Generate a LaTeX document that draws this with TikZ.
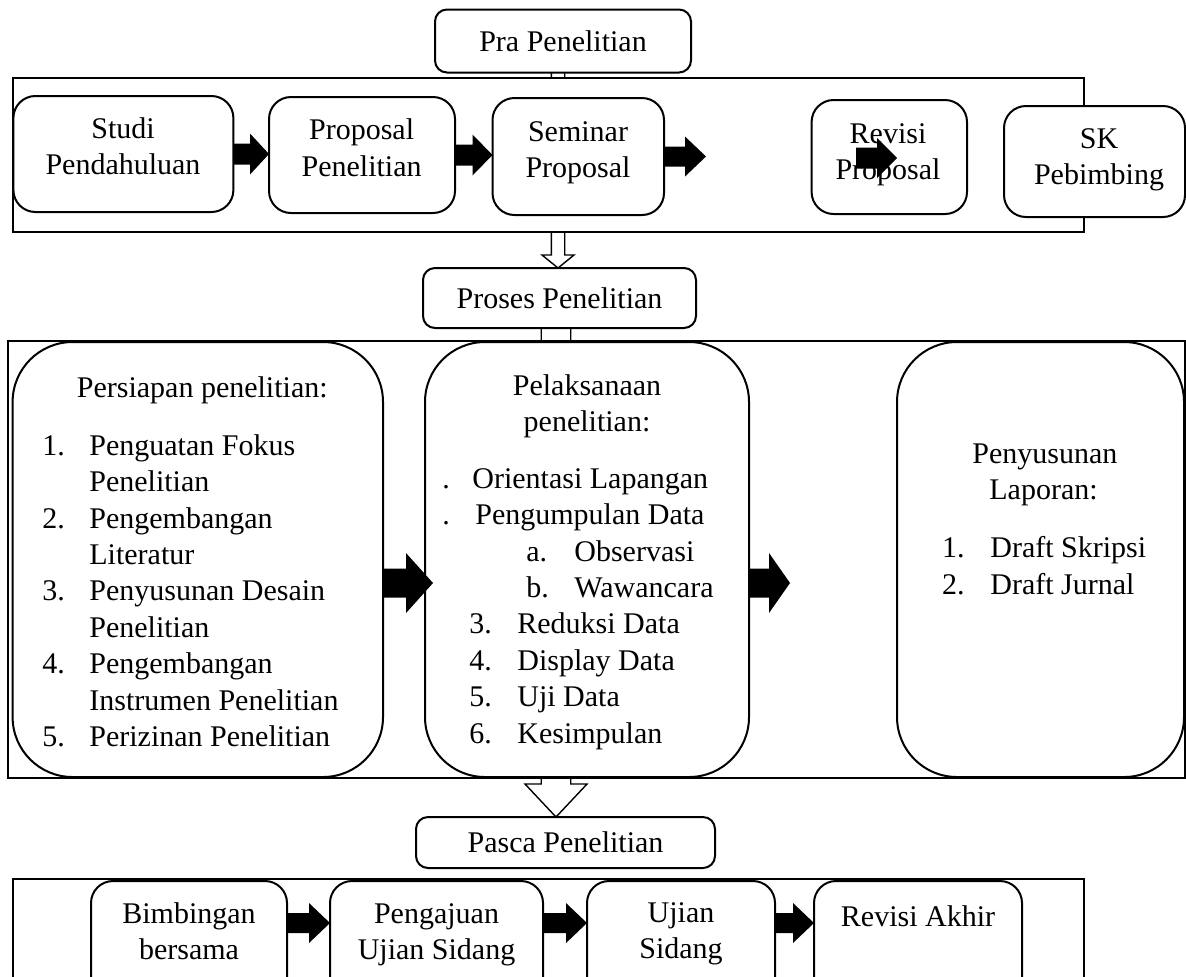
\documentclass[tikz,border=0pt]{standalone}
\usepackage{fontspec}
\setmainfont{Liberation Serif}
\usetikzlibrary{calc}

% broad black arrow, pointing right: start, tip, shaft half, head half, head length
\newcommand{\fatarrow}[5]{%
  \fill ($(#1)+(0,-#3)$) -- ($(#2)+(-#5,-#3)$) -- ($(#2)+(-#5,-#4)$) -- (#2)
    -- ($(#2)+(-#5,#4)$) -- ($(#2)+(-#5,#3)$) -- ($(#1)+(0,#3)$) -- cycle;}
% open arrow, pointing down: start, tip, shaft half, head half, head length
\newcommand{\hollowdown}[5]{%
  \draw[hollow] ($(#1)+(-#3,0)$) -- ($(#2)+(-#3,-#5)$) -- ($(#2)+(-#4,-#5)$) -- (#2)
    -- ($(#2)+(#4,-#5)$) -- ($(#2)+(#3,-#5)$) -- ($(#1)+(#3,0)$);}

\begin{document}
\begin{tikzpicture}[x=0.5pt,y=-0.5pt,
    stagebox/.style={draw, line width=1pt, fill=white, rounded corners=6pt,
      inner sep=0pt, outer sep=0pt, font=\fontsize{15}{18.2}\selectfont},
    stepbox/.style={draw, line width=1pt, fill=white, rounded corners=11pt,
      inner sep=0pt, outer sep=0pt},
    bigbox/.style={draw, line width=1pt, fill=white, rounded corners=30pt,
      inner sep=0pt, outer sep=0pt},
    groupframe/.style={draw, line width=1pt, fill=white},
    hollow/.style={line width=0.7pt},
    txt/.style={inner sep=0pt, font=\fontsize{15}{18.2}\selectfont}]
    \useasboundingbox (0,0) rectangle (1186,976);
    \clip (0,0) rectangle (1186,976);

    % The three stage titles
    \node[stagebox, minimum width=128pt, minimum height=31.5pt] (pra) at (563,41) {Pra Penelitian};
    \node[stagebox, minimum width=136.5pt, minimum height=30pt] (proses) at (559.5,298) {Proses Penelitian};
    \node[stagebox, minimum width=149.5pt, minimum height=25.5pt] (pasca) at (565.5,842.5) {Pasca Penelitian};

    % Open arrows between the stages (partly hidden by the frames)
    \coordinate (h1) at (558,0);
    \coordinate (h1s) at (h1 |- pra.south);
    \coordinate (h1e) at (h1 |- proses.north);
    \hollowdown{h1s}{h1e}{6.7}{16}{13}
    \coordinate (h2) at (556,0);
    \coordinate (h2s) at (h2 |- proses.south);
    \coordinate (h2e) at (h2 |- pasca.north);
    \hollowdown{h2s}{h2e}{14.75}{31}{33}

    % Frames round each stage
    \draw[groupframe] (12.6,77.7) rectangle (1084,231.7);
    \draw[groupframe] (7.7,341) rectangle (1184.5,778);
    \draw[groupframe] (12.6,879) rectangle (1084,1010);

    % Pra Penelitian
    \node[stepbox, minimum width=110pt, minimum height=58pt] (studi) at (123.4,154) {};
    \node[stepbox, minimum width=93pt, minimum height=58pt] (proposal) at (362,155) {};
    \node[stepbox, minimum width=85.75pt, minimum height=58.5pt] (seminar) at (578.25,156.5) {};
    \node[stepbox, minimum width=77.7pt, minimum height=57pt] (revisi) at (889.3,157) {};
    \node[stepbox, minimum width=90.5pt, minimum height=55.5pt] (sk) at (1094.5,161.5) {};
    \node[txt, anchor=north] (studi-t) at (123,112.5) {\begin{tabular}{@{}c@{}}Studi\\Pendahuluan\end{tabular}};
    \node[txt, anchor=north] (proposal-t) at (361.6,114) {\begin{tabular}{@{}c@{}}Proposal\\Penelitian\end{tabular}};
    \node[txt, anchor=north] (seminar-t) at (578,115.5) {\begin{tabular}{@{}c@{}}Seminar\\Proposal\end{tabular}};
    \node[txt, anchor=north] (revisi-t) at (888,117.5) {\begin{tabular}{@{}c@{}}Revisi\\Proposal\end{tabular}};
    \node[txt, anchor=north] (sk-t) at (1099,122.5) {\begin{tabular}{@{}c@{}}SK\\Pebimbing\end{tabular}};

    % Proses Penelitian
    \node[bigbox, minimum width=185.2pt, minimum height=217.5pt] (persiapan) at (197.8,559.5) {};
    \node[bigbox, minimum width=162pt, minimum height=217.5pt] (pelaksanaan) at (587,559.5) {};
    \node[bigbox, minimum width=143.5pt, minimum height=217.5pt] (penyusunan) at (1040.5,559.5) {};
    \node[txt, anchor=north west] (persiapan-t) at (42,371.5) {%
      \begin{tabular}{@{}p{23.5pt}@{}l@{}}
        \multicolumn{2}{@{\hspace{17.25pt}}l@{}}{Persiapan penelitian:}\\[10.75pt]
        1. & Penguatan Fokus\\
           & Penelitian\\
        2. & Pengembangan\\
           & Literatur\\
        3. & Penyusunan Desain\\
           & Penelitian\\
        4. & Pengembangan\\
           & Instrumen Penelitian\\
        5. & Perizinan Penelitian
      \end{tabular}};
    \node[txt, anchor=north] (pelaksanaan-h) at (587,369.5) {\begin{tabular}{@{}c@{}}Pelaksanaan\\penelitian:\end{tabular}};
    \node[txt, anchor=north west] (pelaksanaan-t) at (442,462.5) {%
      \begin{tabular}{@{}l@{}}
        \makebox[15pt][l]{.}Orientasi Lapangan\\
        \makebox[16.5pt][l]{.}Pengumpulan Data\\
        \hspace*{42pt}\makebox[24pt][l]{a.}Observasi\\
        \hspace*{42pt}\makebox[24pt][l]{b.}Wawancara\\
        \hspace*{13.5pt}\makebox[24pt][l]{3.}Reduksi Data\\
        \hspace*{13.5pt}\makebox[24pt][l]{4.}Display Data\\
        \hspace*{13.5pt}\makebox[24pt][l]{5.}Uji Data\\
        \hspace*{13.5pt}\makebox[24pt][l]{6.}Kesimpulan
      \end{tabular}};
    \node[txt, anchor=north west] (penyusunan-t) at (941.6,437.5) {%
      \begin{tabular}{@{}l@{}}
        \hspace*{15.2pt}Penyusunan\\
        \hspace*{23.7pt}Laporan:\\[10.8pt]
        \makebox[24.2pt][l]{1.}Draft Skripsi\\
        \makebox[24.2pt][l]{2.}Draft Jurnal
      \end{tabular}};

    % Pasca Penelitian
    \node[stepbox, minimum width=98pt, minimum height=60pt] (bimbingan) at (189,941) {};
    \node[stepbox, minimum width=106.5pt, minimum height=60pt] (pengajuan) at (436.5,941) {};
    \node[stepbox, minimum width=94pt, minimum height=60pt] (ujian) at (681,941) {};
    \node[stepbox, minimum width=104pt, minimum height=60pt] (revakhir) at (918,941) {};
    \node[txt, anchor=north] (bimbingan-t) at (189,897.5) {\begin{tabular}{@{}c@{}}Bimbingan\\bersama\end{tabular}};
    \node[txt, anchor=north] (pengajuan-t) at (436.5,897.5) {\begin{tabular}{@{}c@{}}Pengajuan\\Ujian Sidang\end{tabular}};
    \node[txt, anchor=north] (ujian-t) at (681,896.5) {\begin{tabular}{@{}c@{}}Ujian\\Sidang\end{tabular}};
    \node[txt, anchor=base] (revakhir-t) at (918,926.7) {Revisi Akhir};

    % Black arrows between the steps
    \coordinate (t1) at (studi.east -| proposal.west);
    \fatarrow{studi.east}{t1}{10.5}{20.5}{19}
    \coordinate (t2) at (proposal.east -| seminar.west);
    \fatarrow{proposal.east}{t2}{10.5}{20.5}{20}
    \coordinate (t3) at (706,156.5);
    \fatarrow{seminar.east}{t3}{10}{20}{21}
    \coordinate (t4s) at (856,158);
    \coordinate (t4) at (897,158);
    \fatarrow{t4s}{t4}{10.5}{20}{20}

    \coordinate (m1) at (433,583);
    \coordinate (m1s) at (m1 -| persiapan.east);
    \fatarrow{m1s}{m1}{14.5}{30}{27}
    \coordinate (m2) at (790,583);
    \coordinate (m2s) at (m2 -| pelaksanaan.east);
    \fatarrow{m2s}{m2}{14.5}{30}{21}

    \coordinate (b0) at (0,923);
    \coordinate (b1s) at (b0 -| bimbingan.east);
    \coordinate (b1) at (b0 -| pengajuan.west);
    \fatarrow{b1s}{b1}{10}{20}{21}
    \coordinate (b2s) at (b0 -| pengajuan.east);
    \coordinate (b2) at (b0 -| ujian.west);
    \fatarrow{b2s}{b2}{10}{20}{21}
    \coordinate (b3s) at (b0 -| ujian.east);
    \coordinate (b3) at (b0 -| revakhir.west);
    \fatarrow{b3s}{b3}{10}{20}{21}
\end{tikzpicture}
\end{document}
